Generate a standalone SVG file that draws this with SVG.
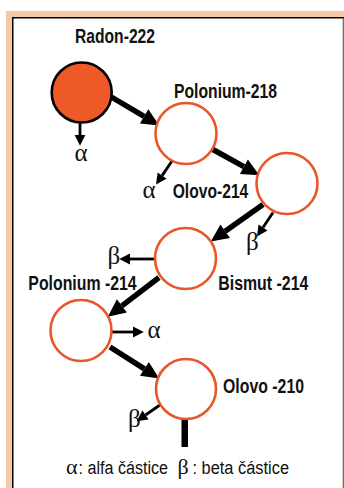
<svg xmlns="http://www.w3.org/2000/svg" width="344" height="488" viewBox="0 0 344 488">
<style>
.nd{fill:#fff;stroke:#e8562a;stroke-width:2.6}
.lb{font-family:"Liberation Sans",Arial,sans-serif;font-weight:bold;font-size:19.5px;fill:#111}
.gk{font-family:"Liberation Serif","Times New Roman",serif;font-size:25px;fill:#111}
.gl{font-family:"Liberation Serif","Times New Roman",serif;font-size:22px;fill:#111}
.lg{font-family:"Liberation Sans",Arial,sans-serif;font-size:18px;fill:#111}
.thick{stroke:#000;stroke-width:5.5;fill:none;marker-end:url(#hb)}
.thin{stroke:#000;stroke-width:2.8;fill:none;marker-end:url(#hs)}
</style>
<defs>
<marker id="hb" markerUnits="userSpaceOnUse" markerWidth="20" markerHeight="20" refX="0" refY="0" viewBox="0 -8 17 16" orient="auto" overflow="visible">
<path d="M0,-7 L15,0 L0,7 z" fill="#000"/>
</marker>
<marker id="hs" markerUnits="userSpaceOnUse" markerWidth="12" markerHeight="12" refX="0" refY="0" viewBox="0 -5 10 10" orient="auto" overflow="visible">
<path d="M0,-4.5 L9,0 L0,4.5 z" fill="#000"/>
</marker>
</defs>
<g id="frame">
<rect x="6" y="11" width="338" height="477" fill="#f6c9a6"/>
<rect x="12" y="17" width="331" height="471" fill="#fff"/>
<line x1="12.75" y1="17" x2="12.75" y2="488" stroke="#000" stroke-width="1.5"/>
<line x1="12" y1="17.75" x2="344" y2="17.75" stroke="#000" stroke-width="1.5"/>
<line x1="343.3" y1="18" x2="343.3" y2="488" stroke="#666" stroke-width="1.2"/>
</g>
<g id="connectors">
<line class="thick" x1="108" y1="95" x2="144.1" y2="116.4"/>
<line class="thick" x1="212" y1="149" x2="243.9" y2="166.7"/>
<line class="thick" x1="263" y1="204.6" x2="225.2" y2="231.3"/>
<line class="thick" x1="159" y1="277.5" x2="121.9" y2="305.9"/>
<line class="thick" x1="110" y1="347" x2="144.4" y2="368.9"/>
<line class="thin" x1="80" y1="122" x2="80" y2="135"/>
<line class="thin" x1="173" y1="159.5" x2="162.1" y2="175.6"/>
<line class="thin" x1="273" y1="212.5" x2="263" y2="227.5"/>
<line class="thin" x1="155" y1="259" x2="130" y2="259"/>
<line class="thin" x1="112" y1="332" x2="133" y2="332"/>
<line class="thin" x1="160" y1="405" x2="145.5" y2="415"/>
<rect x="181.5" y="418" width="6.5" height="29" fill="#000"/>
</g>
<g id="radon222">
<circle cx="81.7" cy="92.5" r="30" fill="#ee5a27" stroke="#000" stroke-width="2.6"/>
<text class="lb" x="75" y="43.3" textLength="80" lengthAdjust="spacingAndGlyphs">Radon-222</text>
<text class="gk" x="74.5" y="161">α</text>
</g>
<g id="polonium218">
<circle class="nd" cx="186" cy="133.5" r="30.5"/>
<text class="lb" x="174" y="97.7" textLength="103" lengthAdjust="spacingAndGlyphs">Polonium-218</text>
<text class="gk" x="142.5" y="198">α</text>
</g>
<g id="olovo214">
<circle class="nd" cx="287" cy="183.5" r="30.5"/>
<text class="lb" x="172.7" y="198.3" textLength="75.6" lengthAdjust="spacingAndGlyphs">Olovo-214</text>
<text class="gk" x="246" y="250">β</text>
</g>
<g id="bismut214">
<circle class="nd" cx="185.5" cy="258.5" r="30.5"/>
<text class="lb" x="218.3" y="290" textLength="90" lengthAdjust="spacingAndGlyphs">Bismut -214</text>
<text class="gk" x="107.5" y="264">β</text>
</g>
<g id="polonium214">
<circle class="nd" cx="81" cy="330.5" r="30.5"/>
<text class="lb" x="28.3" y="290" textLength="108.4" lengthAdjust="spacingAndGlyphs">Polonium -214</text>
<text class="gk" x="147.5" y="338">α</text>
</g>
<g id="olovo210">
<circle class="nd" cx="186" cy="389" r="30"/>
<text class="lb" x="223" y="392.7" textLength="81" lengthAdjust="spacingAndGlyphs">Olovo -210</text>
<text class="gk" x="128" y="427">β</text>
</g>
<g id="legend">
<text class="gl" x="66" y="474">α</text>
<text class="lg" x="78.5" y="474" textLength="89.5" lengthAdjust="spacingAndGlyphs">: alfa částice</text>
<text class="gl" x="177.5" y="474">β</text>
<text class="lg" x="192.5" y="474" textLength="96.5" lengthAdjust="spacingAndGlyphs">: beta částice</text>
</g>
</svg>
